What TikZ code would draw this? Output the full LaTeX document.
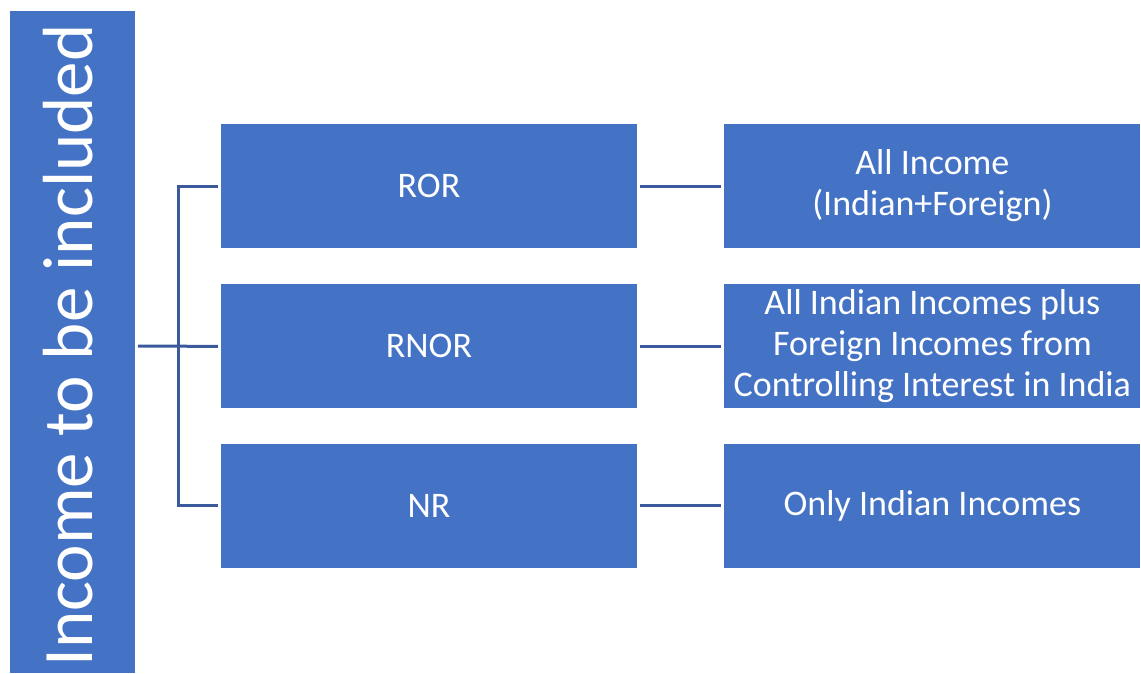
\documentclass[tikz,border=0pt]{standalone}
\usepackage{fontspec}
\setmainfont{Carlito}
\usetikzlibrary{positioning}
\definecolor{boxblue}{HTML}{4472C4}
\definecolor{lineblue}{HTML}{3A5A9C}
\tikzset{
  block/.style={fill=boxblue, text=white, inner sep=0pt, minimum width=416pt, minimum height=124pt, align=center, font=\fontsize{36}{41}\selectfont},
  conn/.style={draw=lineblue, line width=3pt}
}
\begin{document}
\begin{tikzpicture}[x=1pt, y=-1pt]
  \useasboundingbox (0,0) rectangle (1141,673);
  % left banner
  \fill[boxblue] (10,11) rectangle (135,673);
  \node[rotate=90, anchor=base, text=white, font=\fontsize{71}{80}\selectfont] (title) at (92,345.5) {Income to be included};
  \coordinate (lbox) at (135,346);
  % status boxes
  \node[block] (ror) at (429,186) {ROR};
  \node[block, below=36pt of ror] (rnor) {RNOR};
  \node[block, below=35pt of rnor] (nr) {NR};
  % income boxes
  \node[block, right=87pt of ror] (allinc) {All Income\\(Indian+Foreign)};
  \node[block, right=87pt of rnor] (indplus) {All Indian Incomes plus\\Foreign Incomes from\\Controlling Interest in India};
  \node[block, right=87pt of nr] (indonly) {Only Indian Incomes};
  % connectors
  \coordinate (fork) at (178,346);
  \draw[conn, shorten <=3pt, shorten >=3pt] (lbox) -- (rnor.west);
  \draw[conn, shorten <=3pt, shorten >=3pt] (ror.west) -| (fork) |- (nr.west);
  \draw[conn, shorten <=3pt, shorten >=3pt] (ror.east) -- (allinc.west);
  \draw[conn, shorten <=3pt, shorten >=3pt] (rnor.east) -- (indplus.west);
  \draw[conn, shorten <=3pt, shorten >=3pt] (nr.east) -- (indonly.west);
\end{tikzpicture}
\end{document}
